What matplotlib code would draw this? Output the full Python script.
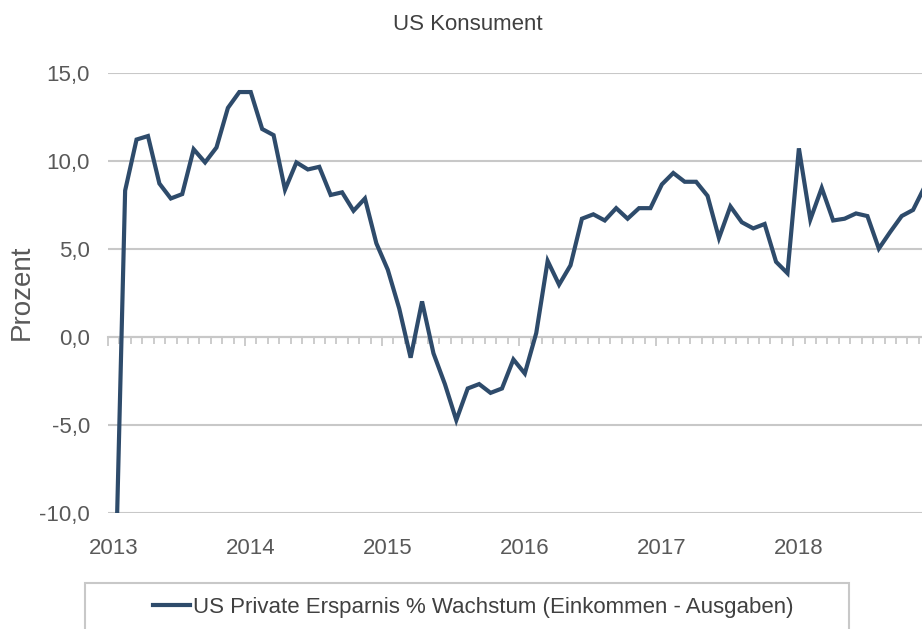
import numpy as np
import matplotlib.pyplot as plt
from matplotlib.patches import Rectangle

###### DATA ##########
title = 'US Konsument'
ylabel = 'Prozent'
series_name = 'US Private Ersparnis % Wachstum (Einkommen - Ausgaben)'
years = ['2013', '2014', '2015', '2016', '2017', '2018']
y_ticks = [-10, -5, 0, 5, 10, 15]
# monthly values, Jan 2013 .. Dec 2018 (first one runs off the bottom of the chart)
ersparnis = [-18.0, 8.3, 11.2, 11.4, 8.7, 7.85, 8.1, 10.65, 9.9, 10.75, 13.0, 13.9,
             13.9, 11.8, 11.45, 8.35, 9.9, 9.5, 9.65, 8.05, 8.2, 7.15, 7.85, 5.3,
             3.8, 1.6, -1.2, 2.0, -0.95, -2.7, -4.75, -2.95, -2.7, -3.2, -2.95, -1.3,
             -2.1, 0.2, 4.3, 2.95, 4.05, 6.7, 6.95, 6.6, 7.3, 6.7, 7.3, 7.3,
             8.65, 9.3, 8.8, 8.8, 8.0, 5.6, 7.4, 6.5, 6.15, 6.4, 4.25, 3.6,
             10.7, 6.65, 8.45, 6.6, 6.7, 7.0, 6.85, 5.0, 5.95, 6.85, 7.2, 8.5]
######################

FONT = ['Liberation Sans Narrow', 'Liberation Sans', 'DejaVu Sans']
TXT = '#595959'
GRID = '#c8c8c8'
LINE = '#2e4b6b'
FS = 16

W, H = 922, 629
fig = plt.figure(figsize=(W / 100, H / 100), dpi=100)
ax = fig.add_axes([108 / W, 1 - 512.5 / H, 1 - 108 / W, (512.5 - 72.7) / H])

# months plotted at mid-month
months = np.arange(len(ersparnis)) + 0.5
ax.plot(months, ersparnis, color=LINE, lw=3, solid_joinstyle='miter', zorder=3)

ax.set_xlim(0, 71.28)
ax.set_ylim(-10, 15)

ax.set_yticks(y_ticks)
ax.set_yticklabels([('%.1f' % v).replace('.', ',') for v in y_ticks],
                   family=FONT, fontsize=FS, color=TXT)
ax.tick_params(axis='y', length=0, pad=13)
ax.yaxis.grid(True, color=GRID, lw=1.5)
ax.set_axisbelow(True)

for s in ['top', 'right', 'left']:
    ax.spines[s].set_visible(False)
ax.spines['bottom'].set_position(('data', 0))
ax.spines['bottom'].set_color(GRID)
ax.spines['bottom'].set_linewidth(1.5)

# month ticks on the zero line
ax.set_xticks(np.arange(0, 72, 12))
ax.set_xticks(np.arange(0, 72), minor=True)
ax.tick_params(axis='x', which='major', length=6.5, width=1.3, color=GRID,
               labelbottom=False)
ax.tick_params(axis='x', which='minor', length=5, width=1.3, color=GRID)

# year labels at the bottom of the plot
sec = ax.secondary_xaxis('bottom')
sec.set_xticks(np.arange(len(years)) * 12 + 0.5)
sec.set_xticklabels(years, family=FONT, fontsize=FS, color=TXT)
sec.tick_params(length=0, pad=18)
sec.spines['bottom'].set_visible(False)

fig.text(468 / W, 1 - 25 / H, title, ha='center', va='center',
         family=FONT, fontsize=16, color='#404040')
fig.text(22 / W, 1 - 292 / H, ylabel, rotation=90, ha='center', va='center',
         family=['Liberation Sans', 'DejaVu Sans'], fontsize=20, color=TXT)

# legend box, runs off the bottom of the image
fig.patches.append(Rectangle((85 / W, -0.05), (849 - 85) / W, (629 - 583) / H + 0.05,
                             transform=fig.transFigure, fill=False,
                             edgecolor=GRID, lw=1.5))
leg = fig.legend([ax.lines[0]], [series_name], loc='center left',
                 bbox_to_anchor=(153 / W, 1 - 607 / H), frameon=False,
                 borderpad=0, borderaxespad=0, handlelength=1.67,
                 handletextpad=0.14, prop={'family': FONT, 'size': FS})
for t in leg.get_texts():
    t.set_color('#404040')

fig.savefig('out.png', dpi=100)
